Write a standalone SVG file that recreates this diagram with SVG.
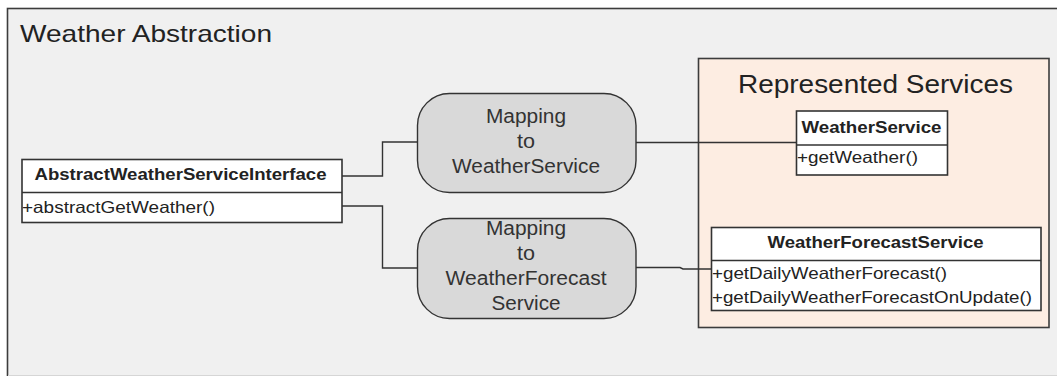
<svg xmlns="http://www.w3.org/2000/svg" width="1057" height="376" viewBox="0 0 1057 376">
<style>
text{font-family:"Liberation Sans",Arial,sans-serif;fill:#222}
.frame{fill:#f0f0f0;stroke:#3c3c3c;stroke-width:1.6}
.pkg{fill:#fdede2;stroke:#3c3c3c;stroke-width:1.6}
.cls{fill:#ffffff;stroke:#333;stroke-width:1.6}
.map{fill:#d9d9d9;stroke:#333;stroke-width:1.4}
.conn{fill:none;stroke:#333;stroke-width:1.4}
.b{font-weight:bold;font-size:16.5px}
.m{font-size:16.5px}
.mt{font-size:19.5px;text-anchor:middle;fill:#333}
</style>
<rect x="0" y="0" width="1057" height="376" fill="#ffffff"/>
<g id="weather-abstraction">
<rect class="frame" x="7.5" y="8.5" width="1060" height="380"/>
<line x1="8" y1="375.5" x2="1057" y2="375.5" stroke="#d6d6d6" stroke-width="1"/>
<text x="20" y="42" font-size="24" textLength="252" lengthAdjust="spacingAndGlyphs">Weather Abstraction</text>
</g>
<g id="represented-services">
<rect class="pkg" x="698.5" y="58.5" width="350.5" height="269"/>
<text x="738" y="93" font-size="25" textLength="275" lengthAdjust="spacingAndGlyphs">Represented Services</text>
</g>
<g id="connectors">
<path class="conn" d="M342,176 H382.5 V142 H417.5"/>
<path class="conn" d="M342,206 H382.5 V268 H417.5"/>
<path class="conn" d="M636,142.5 H797"/>
<path class="conn" d="M636,267.5 H680 L683,269 H712"/>
</g>
<g id="abstract-weather-service-interface">
<rect class="cls" x="22" y="159.5" width="320" height="63"/>
<line class="cls" x1="22" y1="192.5" x2="342" y2="192.5"/>
<text class="b" x="34.5" y="180" textLength="292" lengthAdjust="spacingAndGlyphs">AbstractWeatherServiceInterface</text>
<text class="m" x="22" y="213" textLength="193" lengthAdjust="spacingAndGlyphs">+abstractGetWeather()</text>
</g>
<g id="mapping-weather-service">
<rect class="map" x="417.5" y="93.5" width="218.5" height="99" rx="32" ry="32"/>
<text class="mt" x="526" y="123" textLength="80" lengthAdjust="spacingAndGlyphs">Mapping</text>
<text class="mt" x="526" y="148" textLength="18" lengthAdjust="spacingAndGlyphs">to</text>
<text class="mt" x="526" y="173" textLength="148" lengthAdjust="spacingAndGlyphs">WeatherService</text>
</g>
<g id="mapping-weather-forecast-service">
<rect class="map" x="417.5" y="218.5" width="218.5" height="100" rx="32" ry="32"/>
<text class="mt" x="526" y="235" textLength="80" lengthAdjust="spacingAndGlyphs">Mapping</text>
<text class="mt" x="526" y="260" textLength="18" lengthAdjust="spacingAndGlyphs">to</text>
<text class="mt" x="526" y="285" textLength="161" lengthAdjust="spacingAndGlyphs">WeatherForecast</text>
<text class="mt" x="526" y="310" textLength="69" lengthAdjust="spacingAndGlyphs">Service</text>
</g>
<g id="weather-service">
<rect class="cls" x="796.5" y="111" width="151" height="64"/>
<line class="cls" x1="796.5" y1="145" x2="947.5" y2="145"/>
<text class="b" x="801.5" y="132.5" textLength="140" lengthAdjust="spacingAndGlyphs">WeatherService</text>
<text class="m" x="797" y="163" textLength="121" lengthAdjust="spacingAndGlyphs">+getWeather()</text>
</g>
<g id="weather-forecast-service">
<rect class="cls" x="711.5" y="227.5" width="329.5" height="83"/>
<line class="cls" x1="711.5" y1="260.5" x2="1041" y2="260.5"/>
<text class="b" x="767.5" y="248" textLength="216" lengthAdjust="spacingAndGlyphs">WeatherForecastService</text>
<text class="m" x="712" y="279" textLength="235" lengthAdjust="spacingAndGlyphs">+getDailyWeatherForecast()</text>
<text class="m" x="712" y="303" textLength="320" lengthAdjust="spacingAndGlyphs">+getDailyWeatherForecastOnUpdate()</text>
</g>
</svg>
